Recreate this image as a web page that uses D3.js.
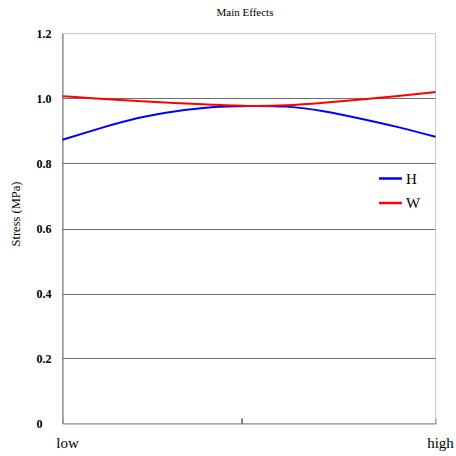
<!DOCTYPE html>
<html><head><meta charset="utf-8">
<script src="https://cdn.jsdelivr.net/npm/d3@7"></script>
<style>
html,body{margin:0;padding:0;background:#fff;}
text{font-family:"Liberation Serif","Times New Roman",serif;fill:#000;}
</style></head>
<body><svg id="c" width="456" height="456"></svg>
<script>
const levels = [0, 0.1, 0.2, 0.3, 0.4, 0.5, 0.6, 0.7, 0.8, 0.9, 1.0];
const seriesH = [0.873, 0.908, 0.939, 0.960, 0.973, 0.977, 0.975, 0.961, 0.938, 0.912, 0.882];
const seriesW = [1.007, 0.999, 0.992, 0.986, 0.981, 0.977, 0.979, 0.987, 0.997, 1.008, 1.020];
const seriesNames = ["H", "W"];
const seriesColors = ["#0000ff", "#ff0000"];
const yTicks = [0, 0.2, 0.4, 0.6, 0.8, 1.0, 1.2];
const yTickLabels = ["0", "0.2", "0.4", "0.6", "0.8", "1.0", "1.2"];
const xLabels = ["low", "high"];
const midTick = [0.48];
const title = "Main Effects";
const yTitle = "Stress (MPa)";

const svg = d3.select("#c");
const L = 62.5, R = 435.5, T = 33.5, B = 423.5;
const x = d3.scaleLinear().domain([0, 1]).range([L, R]);
const y = d3.scaleLinear().domain([0, 1.2]).range([B, T]);

// frame
svg.append("rect").attr("x", L).attr("y", T).attr("width", R - L).attr("height", B - T)
  .attr("fill", "none").attr("stroke", "#c8c8c8").attr("stroke-width", 1);

// gridlines
svg.append("g").selectAll("line").data(yTicks.filter(d => d > 0 && d < 1.2)).join("line")
  .attr("x1", L).attr("x2", R).attr("y1", d => Math.round(y(d)) + 0.5).attr("y2", d => Math.round(y(d)) + 0.5)
  .attr("stroke", "#6e6e6e").attr("stroke-width", 1);

// y axis
const yAxis = d3.axisLeft(y).tickValues(yTicks).tickSize(0).tickFormat((d, i) => yTickLabels[i]);
const gy = svg.append("g").attr("transform", `translate(${L},0)`).call(yAxis);
gy.select(".domain").attr("stroke", "#707070");
gy.selectAll("text").attr("text-anchor", "start").attr("x", -26)
  .style("font-family", "'Liberation Serif', serif").style("font-size", "12px").style("font-weight", "bold");

// x axis
const xAxis = d3.axisBottom(x).tickValues(midTick).tickSize(-5).tickFormat("");
const gx = svg.append("g").attr("transform", `translate(0,${B})`).call(xAxis);
gx.select(".domain").attr("stroke", "#8a8a8a");
gx.selectAll(".tick line").attr("stroke", "#000");

svg.append("g").selectAll("text").data(xLabels).join("text")
  .attr("x", (d, i) => x(i) + 5).attr("y", 448).attr("text-anchor", "middle")
  .attr("font-size", 15).text(d => d);

// title
svg.append("text").attr("x", 245).attr("y", 16).attr("text-anchor", "middle")
  .attr("font-size", 11).text(title);

// y title
svg.append("text").attr("transform", "translate(20,214) rotate(-90)").attr("text-anchor", "middle")
  .attr("font-size", 12.5).text(yTitle);

// lines
const line = d3.line().x((d, i) => x(levels[i])).y(d => y(d)).curve(d3.curveNatural);
[seriesH, seriesW].forEach((s, k) => {
  svg.append("path").datum(s).attr("d", line).attr("fill", "none")
    .attr("stroke", seriesColors[k]).attr("stroke-width", 2);
});

// legend
const lg = svg.append("g");
seriesNames.forEach((n, k) => {
  const yy = 178.5 + k * 24.5;
  lg.append("line").attr("x1", 379).attr("x2", 402).attr("y1", yy).attr("y2", yy)
    .attr("stroke", seriesColors[k]).attr("stroke-width", 2.5);
  lg.append("text").attr("x", 406).attr("y", yy + 5).attr("font-size", 15).text(n);
});
</script></body></html>
